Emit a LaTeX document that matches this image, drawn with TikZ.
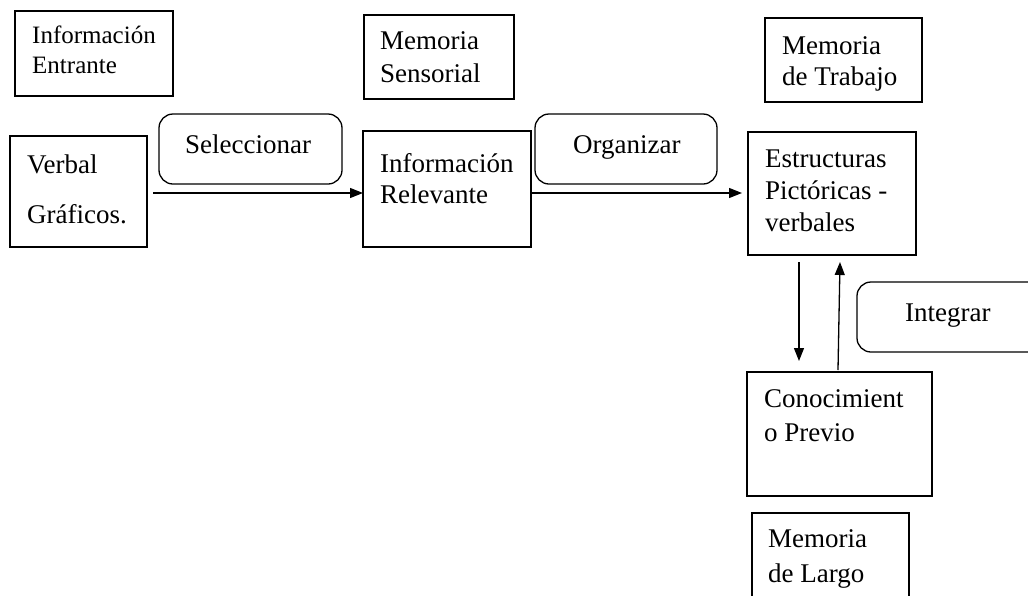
\documentclass[tikz,border=0pt]{standalone}
\usepackage{fontspec}
\setmainfont{Liberation Serif}
\usetikzlibrary{arrows.meta}
\begin{document}
\begin{tikzpicture}[x=1pt,y=-1pt,
  box/.style={draw,line width=1.3pt,inner sep=0pt,outer sep=0pt,anchor=north west},
  rbox/.style={box,rounded corners=14pt},
  txt/.style={anchor=base west,inner sep=0pt,font=\fontsize{27}{30}\selectfont},
  stxt/.style={txt,font=\fontsize{25}{28}\selectfont},
  arr/.style={line width=1.3pt,-{Triangle[length=13pt,width=10pt]}}]
\useasboundingbox (0,0) rectangle (1028,595);
\clip (0,0) rectangle (1028,595);
% boxes
\node[box,minimum width=158pt,minimum height=85pt] (entr) at (15,11) {};
\node[box,minimum width=150pt,minimum height=84pt] (sens) at (364,15) {};
\node[box,minimum width=157pt,minimum height=84pt] (trab) at (765,18) {};
\node[box,minimum width=137pt,minimum height=111pt] (verbal) at (10,136) {};
\node[rbox,minimum width=183pt,minimum height=70pt] (selec) at (159,114) {};
\node[box,minimum width=168pt,minimum height=116pt] (relev) at (363,131) {};
\node[rbox,minimum width=182pt,minimum height=70pt] (organ) at (535,114) {};
\node[box,minimum width=168pt,minimum height=123pt] (estr) at (748,132) {};
\node[rbox,minimum width=200pt,minimum height=70pt] (integ) at (857,282) {};
\node[box,minimum width=185pt,minimum height=124pt] (conoc) at (747,372) {};
\node[box,minimum width=157pt,minimum height=100pt] (largo) at (752,513) {};
% texts
\node[stxt] (entr1) at (32,43) {Información};
\node[stxt] (entr2) at (32,73) {Entrante};
\node[txt] (sens1) at (380,49) {Memoria};
\node[txt] (sens2) at (380,82) {Sensorial};
\node[txt] (trab1) at (782,54) {Memoria};
\node[txt] (trab2) at (782,85) {de Trabajo};
\node[txt] (verb1) at (27,173) {Verbal};
\node[txt] (verb2) at (27,223) {Gráficos.};
\node[txt] (selt) at (185,153) {Seleccionar};
\node[txt] (rel1) at (380,172) {Información};
\node[txt] (rel2) at (380,203) {Relevante};
\node[txt] (orgt) at (573,153) {Organizar};
\node[txt] (est1) at (765,167) {Estructuras};
\node[txt] (est2) at (765,199) {Pictóricas -};
\node[txt] (est3) at (765,231) {verbales};
\node[txt] (intt) at (905,321) {Integrar};
\node[txt] (con1) at (764,407) {Conocimient};
\node[txt] (con2) at (764,441) {o Previo};
\node[txt] (lar1) at (768,547) {Memoria};
\node[txt] (lar2) at (768,582) {de Largo};
% connectors
\coordinate (a1s) at (153,193);
\coordinate (a2s) at (532,193);
\coordinate (a2e) at (742,193);
\coordinate (d1s) at (799,262);
\coordinate (d1e) at (799,361);
\coordinate (u1s) at (838,370);
\coordinate (u1e) at (840,262);
\draw[arr] (a1s) -- (relev.west |- a1s);
\draw[arr] (a2s) -- (a2e);
\draw[arr] (d1s) -- (d1e);
\draw[arr] (u1s) -- (u1e);
\end{tikzpicture}
\end{document}
